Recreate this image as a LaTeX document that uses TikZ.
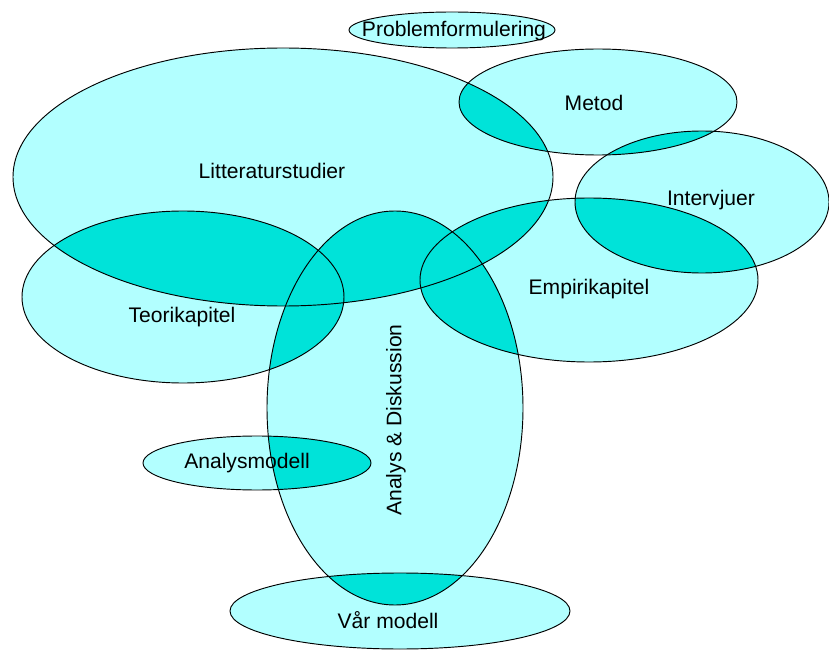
\documentclass[tikz,border=0pt]{standalone}
\usepackage{fontspec}
\setmainfont{Liberation Sans}
\definecolor{pale}{HTML}{B2FFFF}
\definecolor{deep}{HTML}{00E3D9}
\definecolor{rim}{HTML}{000000}

% ellipse outlines, in pixel units of the picture
\def\shLit{(283,-177) ellipse [x radius=270, y radius=129]}
\def\shMet{(598,-102) ellipse [x radius=139, y radius=53]}
\def\shInt{(702,-202) ellipse [x radius=127, y radius=71]}
\def\shEmp{(589,-280) ellipse [x radius=169, y radius=82]}
\def\shTeo{(183,-297) ellipse [x radius=161, y radius=86]}
\def\shAna{(395,-408) ellipse [x radius=128, y radius=197]}
\def\shMod{(257,-463) ellipse [x radius=114, y radius=27]}
\def\shVar{(400,-611) ellipse [x radius=170, y radius=38]}
\def\shPro{(452,-30) ellipse [x radius=103, y radius=18]}

\begin{document}
\begin{tikzpicture}[
    x=0.03cm, y=0.03cm,
    sh/.style={fill=pale},
    ov/.style={fill=deep},
    rm/.style={draw=rim, line width=0.8pt},
    lbl/.style={font=\fontsize{18}{21}\selectfont, inner sep=0pt}]

  \useasboundingbox[fill=white] (0,0) rectangle (829,-650);

  % ── pale fill of every ellipse ──
  \foreach \s in {\shLit,\shMet,\shInt,\shEmp,\shTeo,\shAna,\shMod,\shVar,\shPro}
    \fill[sh] \s;

  % ── darker where two ellipses overlap ──
  \foreach \a/\b in {\shLit/\shMet, \shLit/\shTeo, \shLit/\shAna, \shLit/\shEmp,
                     \shMet/\shInt, \shInt/\shEmp, \shTeo/\shAna, \shAna/\shEmp,
                     \shAna/\shMod, \shAna/\shVar}
  {
    \begin{scope}
      \clip \a;
      \fill[ov] \b;
    \end{scope}
  }

  % ── outlines on top ──
  \foreach \s in {\shLit,\shMet,\shInt,\shEmp,\shTeo,\shAna,\shMod,\shVar,\shPro}
    \draw[rm] \s;

  % ── labels ──
  \node[lbl] (pro) at (454,-31)  {Problemformulering};
  \node[lbl] (met) at (594,-103) {Metod};
  \node[lbl] (lit) at (272,-171) {Litteraturstudier};
  \node[lbl] (int) at (711,-200) {Intervjuer};
  \node[lbl] (emp) at (589,-289) {Empirikapitel};
  \node[lbl] (teo) at (182,-317) {Teorikapitel};
  \node[lbl, rotate=90] (ana) at (396,-420) {Analys \& Diskussion};
  \node[lbl] (mod) at (247,-463) {Analysmodell};
  \node[lbl] (var) at (388,-620) {Vår modell};
\end{tikzpicture}
\end{document}
